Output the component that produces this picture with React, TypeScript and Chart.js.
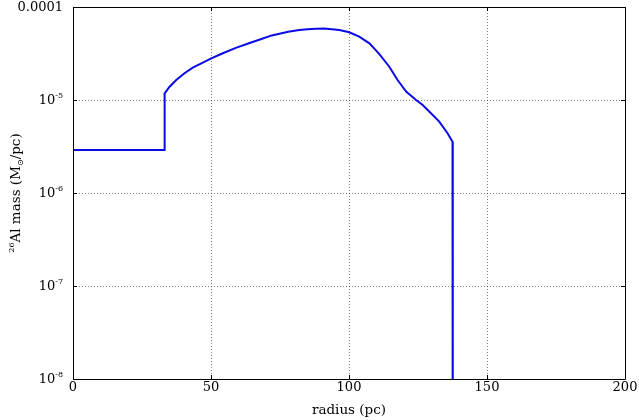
import React, { useEffect, useRef } from "react";
import { Chart, registerables } from "chart.js";

Chart.register(...registerables);

const radius = [0, 33.2, 33.2, 35, 37.4, 40.4, 43.4, 46.5, 50.1, 54.3, 59, 64, 68, 72, 78, 82, 85, 88, 91, 96.5, 100.1, 103.7, 107.4, 111, 114.6, 117.6, 120.7, 124.3, 126.7, 129.7, 132.7, 135.7, 137.5, 137.6];
const mass = [2.9e-6, 2.9e-6, 1.18e-5, 1.39e-5, 1.64e-5, 1.94e-5, 2.23e-5, 2.48e-5, 2.8e-5, 3.18e-5, 3.63e-5, 4.1e-5, 4.5e-5, 4.95e-5, 5.43e-5, 5.65e-5, 5.78e-5, 5.84e-5, 5.86e-5, 5.66e-5, 5.35e-5, 4.8e-5, 4.07e-5, 3.12e-5, 2.28e-5, 1.64e-5, 1.23e-5, 1.0e-5, 8.83e-6, 7.2e-6, 5.85e-6, 4.39e-6, 3.56e-6, 1e-10];

const xTicks = [0, 50, 100, 150, 200];
const yTicks = [1e-8, 1e-7, 1e-6, 1e-5, 1e-4];
const yTickBase = ["10", "10", "10", "10", "0.0001"];
const yTickExp = ["-8", "-7", "-6", "-5", ""];

const FONT = "'DejaVu Serif'";

type Seg = { t: string; size: number; dy: number };

function drawSegs(ctx: CanvasRenderingContext2D, segs: Seg[], x: number, y: number, align: "left" | "center" | "right") {
  let total = 0;
  const widths = segs.map((s) => {
    ctx.font = `${s.size}px ${FONT}`;
    const w = ctx.measureText(s.t).width;
    total += w;
    return w;
  });
  let cx = align === "left" ? x : align === "center" ? x - total / 2 : x - total;
  ctx.textAlign = "left";
  ctx.textBaseline = "alphabetic";
  segs.forEach((s, i) => {
    ctx.font = `${s.size}px ${FONT}`;
    ctx.fillText(s.t, cx, y + s.dy);
    cx += widths[i];
  });
}

const framePlugin = {
  id: "frame",
  afterDraw(chart: any) {
    const ctx: CanvasRenderingContext2D = chart.ctx;
    const { left, right, top, bottom } = chart.chartArea;
    const xs = chart.scales.x;
    const ys = chart.scales.y;
    ctx.save();
    ctx.strokeStyle = "#000";
    ctx.lineWidth = 1;
    ctx.beginPath();
    ctx.rect(Math.round(left) + 0.5, Math.round(top) + 0.5, Math.round(right - left), Math.round(bottom - top));
    ctx.stroke();
    // inward ticks
    ctx.beginPath();
    xTicks.forEach((v) => {
      const px = Math.round(xs.getPixelForValue(v)) + 0.5;
      ctx.moveTo(px, bottom);
      ctx.lineTo(px, bottom - 4);
      ctx.moveTo(px, top);
      ctx.lineTo(px, top + 4);
    });
    yTicks.forEach((v) => {
      const py = Math.round(ys.getPixelForValue(v)) + 0.5;
      ctx.moveTo(left, py);
      ctx.lineTo(left + 4, py);
      ctx.moveTo(right, py);
      ctx.lineTo(right - 4, py);
    });
    ctx.stroke();
    // y tick labels
    ctx.fillStyle = "#000";
    yTicks.forEach((v, i) => {
      const py = ys.getPixelForValue(v);
      const segs: Seg[] = [{ t: yTickBase[i], size: 13, dy: 0 }];
      if (yTickExp[i]) segs.push({ t: yTickExp[i], size: 8, dy: -6 });
      drawSegs(ctx, segs, left - 10, py + 3.5, "right");
    });
    // x title
    drawSegs(ctx, [{ t: "radius (pc)", size: 13.5, dy: 0 }], (left + right) / 2, 414, "center");
    // y title
    ctx.translate(20, (top + bottom) / 2);
    ctx.rotate(-Math.PI / 2);
    drawSegs(
      ctx,
      [
        { t: "26", size: 8, dy: -6 },
        { t: "Al mass (M", size: 13.5, dy: 0 },
        { t: "\u2299", size: 8, dy: 3 },
        { t: "/pc)", size: 13.5, dy: 0 },
      ],
      0,
      0,
      "center"
    );
    ctx.restore();
  },
};

export default function App() {
  const ref = useRef<HTMLCanvasElement>(null);
  useEffect(() => {
    document.body.style.margin = "0";
    const points = radius.map((r, i) => ({ x: r, y: mass[i] }));
    const chart = new Chart(ref.current!, {
      type: "line",
      data: {
        datasets: [
          {
            data: points,
            borderColor: "#0a0ae6",
            borderWidth: 2,
            pointRadius: 0,
            tension: 0,
            fill: false,
          },
        ],
      },
      options: {
        animation: false,
        responsive: false,
        layout: { padding: { top: 7, right: 14, left: 0, bottom: 0 } },
        plugins: { legend: { display: false }, tooltip: { enabled: false } },
        scales: {
          x: {
            type: "linear",
            min: 0,
            max: 200,
            afterBuildTicks: (s: any) => {
              s.ticks = xTicks.map((v) => ({ value: v }));
            },
            afterFit: (s: any) => {
              s.height = 41;
            },
            ticks: {
              color: "#000",
              font: { family: FONT, size: 13 },
              padding: 1,
              maxRotation: 0,
            },
            grid: {
              color: "rgba(0,0,0,0.5)",
              drawTicks: false,
              tickLength: 0,
            },
            border: { display: false, dash: [1, 2] },
          },
          y: {
            type: "logarithmic",
            min: 1e-8,
            max: 1e-4,
            afterBuildTicks: (s: any) => {
              s.ticks = yTicks.map((v) => ({ value: v, major: true }));
            },
            afterFit: (s: any) => {
              s.width = 73;
            },
            ticks: { display: false },
            grid: {
              color: "rgba(0,0,0,0.5)",
              drawTicks: false,
              tickLength: 0,
            },
            border: { display: false, dash: [1, 2] },
          },
        },
      },
      plugins: [framePlugin],
    });
    return () => chart.destroy();
  }, []);
  return (
    <div style={{ position: "absolute", left: 0, top: 0, width: 639, height: 420 }}>
      <canvas ref={ref} width={639} height={420} style={{ display: "block" }} />
    </div>
  );
}
